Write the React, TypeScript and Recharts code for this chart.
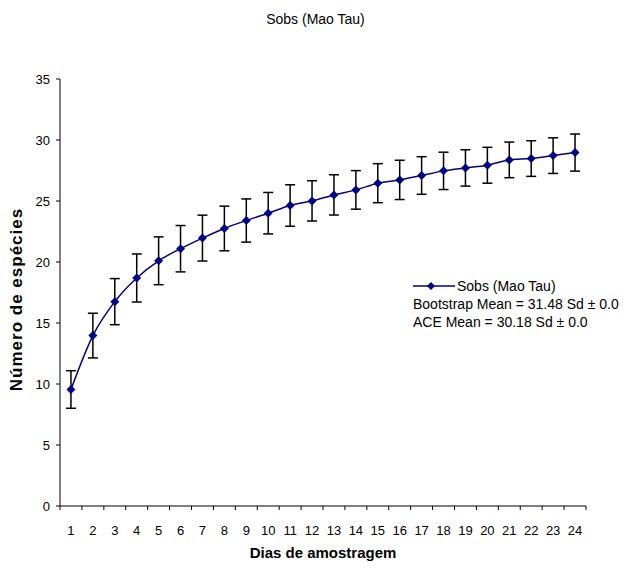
import { LineChart, Line, XAxis, YAxis, ErrorBar } from 'recharts';

const days = [1, 2, 3, 4, 5, 6, 7, 8, 9, 10, 11, 12, 13, 14, 15, 16, 17, 18, 19, 20, 21, 22, 23, 24];
const sobs = [9.55, 13.97, 16.75, 18.69, 20.1, 21.09, 21.96, 22.75, 23.4, 24.0, 24.63, 25.01, 25.5, 25.91, 26.46, 26.73, 27.09, 27.47, 27.71, 27.93, 28.37, 28.48, 28.72, 28.97];
const sd = [1.54, 1.83, 1.89, 1.97, 1.96, 1.9, 1.88, 1.83, 1.77, 1.7, 1.7, 1.65, 1.65, 1.58, 1.6, 1.61, 1.54, 1.53, 1.49, 1.47, 1.46, 1.46, 1.46, 1.52];
const yTicks = [0, 5, 10, 15, 20, 25, 30, 35];
const boundaryTicks = [0, ...days].map((d) => d + 0.5);

const chartTitle = 'Sobs (Mao Tau)';
const seriesName = 'Sobs (Mao Tau)';
const legendNotes = ['Bootstrap Mean = 31.48 Sd \u00b1 0.0', 'ACE Mean = 30.18 Sd \u00b1 0.0'];
const xTitle = 'Dias de amostragem';
const yTitle = 'Número de espécies';

const data = days.map((d, i) => ({ day: d, sobs: sobs[i], sd: sd[i] }));

const NAVY = '#000080';
const FONT = '"Liberation Sans", Arial, sans-serif';

const Diamond = (props: any) => {
  const { cx, cy } = props;
  if (cx == null || cy == null) return null;
  const r = 4.5;
  return <polygon points={`${cx},${cy - r} ${cx + r},${cy} ${cx},${cy + r} ${cx - r},${cy}`} fill={NAVY} stroke="none" />;
};

const LegendBox = () => (
  <div style={{ fontFamily: FONT, fontSize: 14, color: '#000', lineHeight: '18px' }}>
    <div style={{ display: 'flex', alignItems: 'center' }}>
      <svg width={44} height={10}>
        <line x1={0} y1={5} x2={42} y2={5} stroke={NAVY} strokeWidth={1.5} />
        <polygon points="18,1 22,5 18,9 14,5" fill={NAVY} />
      </svg>
      <span>{seriesName}</span>
    </div>
    {legendNotes.map((n) => (
      <div key={n}>{n}</div>
    ))}
  </div>
);

// rotated y-axis title, left of the tick labels
const YTitle = (props: any) => {
  const { viewBox } = props;
  const x = viewBox.x - 14;
  const y = viewBox.y + viewBox.height / 2 + 7;
  return (
    <text
      x={x}
      y={y}
      transform={`rotate(-90 ${x} ${y})`}
      textAnchor="middle"
      dominantBaseline="central"
      fill="#000"
      fontSize={17}
      fontWeight="bold"
      fontFamily={FONT}
      letterSpacing={1}
    >
      {yTitle}
    </text>
  );
};

export default function App() {
  return (
    <div style={{ margin: -8, position: 'relative', width: 631, height: 572, background: '#fff' }}>
      <div
        style={{
          position: 'absolute', top: 11, left: 0, width: 631, textAlign: 'center',
          fontFamily: FONT, fontSize: 14, color: '#000',
        }}
      >
        {chartTitle}
      </div>
      <div style={{ position: 'absolute', left: 413, top: 277, width: 230 }}>
        <LegendBox />
      </div>
      <LineChart width={631} height={572} data={data} margin={{ top: 79, right: 45, bottom: 10, left: 30 }}>
        <XAxis
          xAxisId="a"
          dataKey="day"
          type="number"
          domain={[0.5, 24.5]}
          ticks={boundaryTicks}
          tickFormatter={() => ''}
          tickSize={4}
          height={5}
          stroke="#000"
          allowDataOverflow
        />
        <XAxis
          xAxisId="b"
          dataKey="day"
          type="number"
          domain={[0.5, 24.5]}
          ticks={days}
          interval={0}
          axisLine={false}
          tickLine={false}
          height={51}
          tickMargin={9}
          tick={{ fill: '#000', fontSize: 13, fontFamily: FONT }}
          label={{ value: xTitle, position: 'insideBottom', offset: 4, fill: '#000', fontSize: 15, fontWeight: 'bold', fontFamily: FONT }}
        />
        <YAxis
          domain={[0, 35]}
          ticks={yTicks}
          width={30}
          tickSize={4}
          tickMargin={6}
          stroke="#000"
          tick={{ fill: '#000', fontSize: 13, fontFamily: FONT }}
          label={<YTitle />}
        />
        <Line
          xAxisId="b"
          type="monotone"
          dataKey="sobs"
          name={seriesName}
          stroke={NAVY}
          strokeWidth={1.5}
          dot={<Diamond />}
          activeDot={false}
          isAnimationActive={false}
        >
          <ErrorBar dataKey="sd" width={5} stroke="#000" strokeWidth={1.5} direction="y" />
        </Line>
      </LineChart>
    </div>
  );
}
